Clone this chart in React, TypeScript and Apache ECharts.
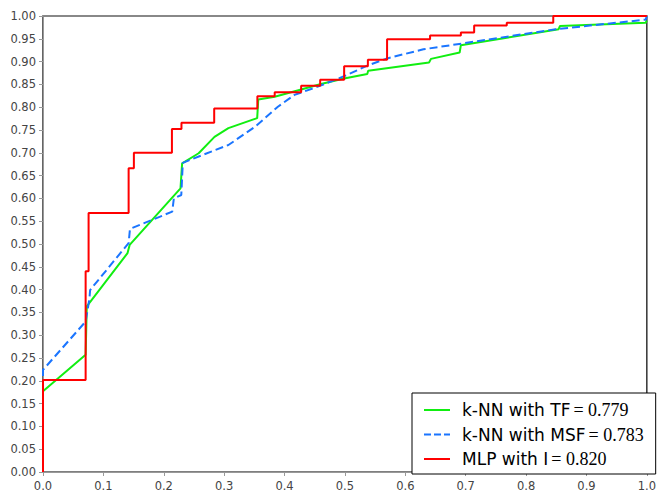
import React, { useEffect, useRef } from "react";
import * as echarts from "echarts";

const tfName = "k-NN with TF";
const tfAuc = "0.779";
const tfX = [0, 0, 0.0706, 0.0725, 0.14, 0.1435, 0.2277, 0.2304, 0.2578, 0.284, 0.307, 0.3547, 0.3565, 0.3837, 0.4275, 0.4603, 0.4987, 0.537, 0.5385, 0.6393, 0.6425, 0.69, 0.692, 0.854, 0.856, 0.998, 1.0];
const tfY = [0, 0.177, 0.257, 0.363, 0.48, 0.498, 0.622, 0.677, 0.699, 0.735, 0.754, 0.776, 0.817, 0.823, 0.839, 0.851, 0.863, 0.873, 0.88, 0.898, 0.906, 0.92, 0.936, 0.971, 0.978, 0.985, 0.99];

const msfName = "k-NN with MSF";
const msfAuc = "0.783";
const msfX = [0, 0, 0.0706, 0.077, 0.078, 0.1418, 0.144, 0.214, 0.2167, 0.229, 0.2315, 0.285, 0.307, 0.351, 0.389, 0.4165, 0.455, 0.4987, 0.537, 0.5698, 0.63, 0.696, 0.849, 0.998, 1.0];
const msfY = [0, 0.224, 0.33, 0.381, 0.399, 0.502, 0.533, 0.571, 0.6, 0.6075, 0.678, 0.706, 0.717, 0.757, 0.801, 0.827, 0.845, 0.868, 0.891, 0.907, 0.927, 0.94, 0.971, 0.992, 1.0];

const mlpName = "MLP with I";
const mlpAuc = "0.820";
const mlpX = [0, 0, 0.0706, 0.0706, 0.0755, 0.0755, 0.1418, 0.1418, 0.1505, 0.1505, 0.2135, 0.2135, 0.2293, 0.2293, 0.2835, 0.2835, 0.355, 0.355, 0.3837, 0.3837, 0.4275, 0.4275, 0.459, 0.459, 0.4987, 0.4987, 0.538, 0.538, 0.5698, 0.5698, 0.641, 0.641, 0.692, 0.692, 0.714, 0.714, 0.768, 0.768, 0.845, 0.845, 1.0];
const mlpY = [0, 0.202, 0.202, 0.44, 0.44, 0.568, 0.568, 0.666, 0.666, 0.7, 0.7, 0.752, 0.752, 0.766, 0.766, 0.797, 0.797, 0.824, 0.824, 0.833, 0.833, 0.847, 0.847, 0.86, 0.86, 0.89, 0.89, 0.904, 0.904, 0.949, 0.949, 0.957, 0.957, 0.964, 0.964, 0.979, 0.979, 0.985, 0.985, 1.0, 1.0];

const zip = (xs: number[], ys: number[]) => xs.map((x, i) => [x, ys[i]]);

const solidIcon = "path://M0,0h26v2h-26z";
const dashedIcon = "path://M0,0h7v2h-7zM10,0h7v2h-7zM20,0h6v2h-6z";

export default function App() {
  const ref = useRef<HTMLDivElement>(null);
  useEffect(() => {
    if (!ref.current) return;
    const chart = echarts.init(ref.current, null, { renderer: "svg" });
    const aucs: Record<string, string> = { [tfName]: tfAuc, [msfName]: msfAuc, [mlpName]: mlpAuc };
    const tickFont = { fontFamily: "DejaVu Sans", fontSize: 11.5, color: "#444" };
    chart.setOption({
      animation: false,
      backgroundColor: "#fff",
      grid: { left: 43, right: 7, top: 16, bottom: 21, show: true, borderColor: "#000", borderWidth: 1.2 },
      xAxis: [
        {
          type: "value", min: 0, max: 1, interval: 0.1, position: "bottom", offset: 4,
          axisLine: { show: true, lineStyle: { color: "#999", width: 1 } },
          axisTick: { show: true, length: 4, lineStyle: { color: "#999" } },
          axisLabel: { ...tickFont, margin: 4, formatter: (v: number) => v.toFixed(1) },
          splitLine: { show: false },
        },
        {
          type: "value", min: 0, max: 1, position: "top",
          axisLine: { show: true, lineStyle: { color: "#888", width: 2 } },
          axisTick: { show: false }, axisLabel: { show: false }, splitLine: { show: false },
        },
      ],
      yAxis: {
        type: "value", min: 0, max: 1, interval: 0.05, offset: 3,
        axisLine: { show: true, lineStyle: { color: "#999", width: 1 } },
        axisTick: { show: true, length: 4, lineStyle: { color: "#999" } },
        axisLabel: { ...tickFont, margin: 4, formatter: (v: number) => v.toFixed(2) },
        splitLine: { show: false },
      },
      legend: {
        orient: "vertical", left: 412, top: 393,
        padding: [8, 12, 6, 12], itemGap: 6.5, itemWidth: 26, itemHeight: 2,
        borderColor: "#000", borderWidth: 1, backgroundColor: "#fff", borderRadius: 0,
        data: [
          { name: tfName, icon: solidIcon },
          { name: msfName, icon: dashedIcon },
          { name: mlpName, icon: solidIcon },
        ],
        formatter: (name: string) => `{a|${name}}{b|= ${aucs[name]}}`,
        textStyle: {
          fontSize: 17,
          rich: {
            a: { fontFamily: "DejaVu Sans", fontSize: 17, color: "#000", padding: [0, 0, 0, 7], lineHeight: 18 },
            b: { fontFamily: "Liberation Serif", fontSize: 18, color: "#000", lineHeight: 18, padding: [0, 0, 0, 3] },
          },
        },
      },
      series: [
        { name: tfName, type: "line", data: zip(tfX, tfY), showSymbol: false, symbol: "none", lineStyle: { color: "#11ee11", width: 2 }, itemStyle: { color: "#11ee11" }, z: 3 },
        { name: msfName, type: "line", data: zip(msfX, msfY), showSymbol: false, symbol: "none", lineStyle: { color: "#1a75ff", width: 2, type: [8, 4] }, itemStyle: { color: "#1a75ff" }, z: 4 },
        { name: mlpName, type: "line", data: zip(mlpX, mlpY), showSymbol: false, symbol: "none", lineStyle: { color: "#ff0000", width: 2 }, itemStyle: { color: "#ff0000" }, z: 5 },
      ],
    });
    return () => chart.dispose();
  }, []);
  return <div ref={ref} style={{ position: "absolute", left: 0, top: 0, width: 659, height: 493 }} />;
}
